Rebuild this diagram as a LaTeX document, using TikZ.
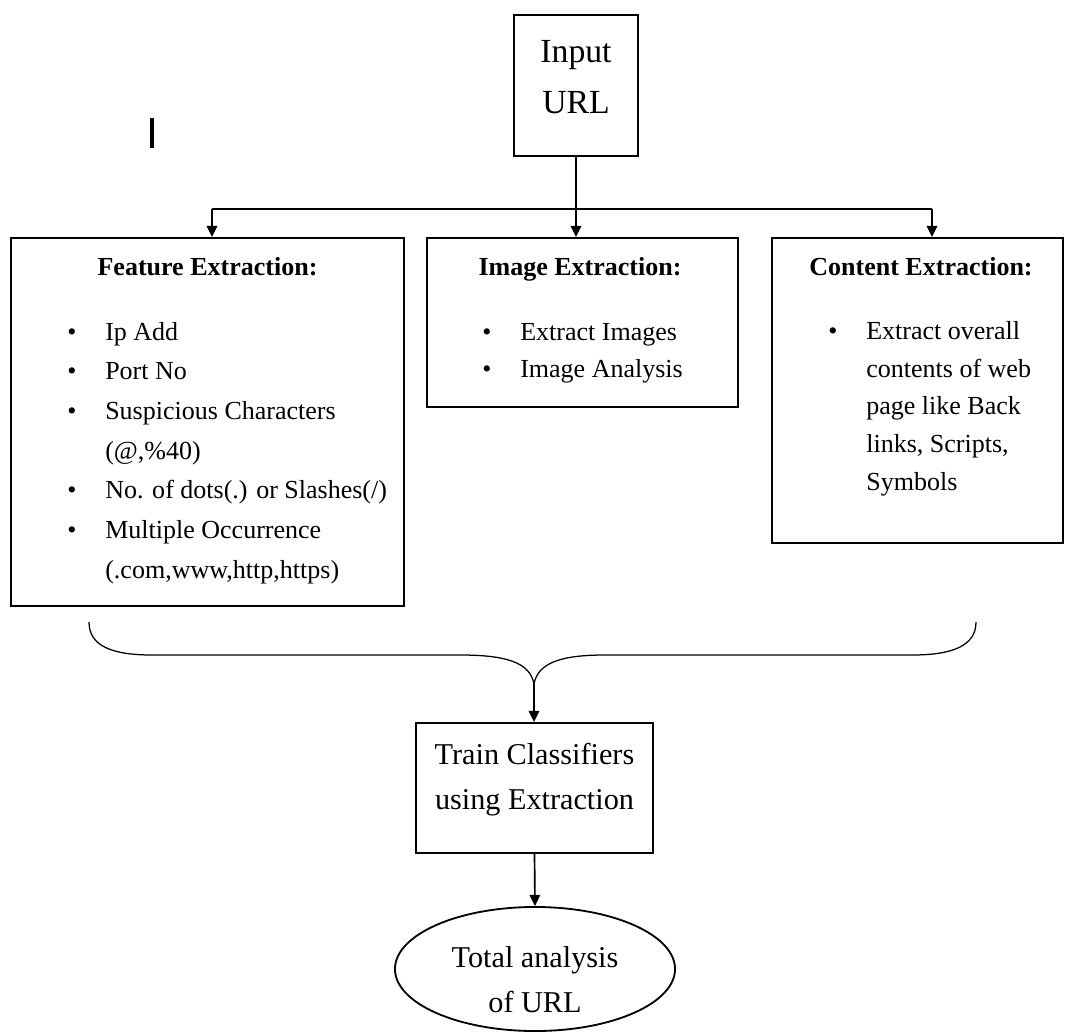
\documentclass[tikz,border=0pt]{standalone}
\usepackage{fontspec}
\setmainfont{Liberation Serif}
\usetikzlibrary{arrows.meta,shapes.geometric}

\newcommand{\blt}{\makebox[0.95cm][l]{\textbullet}}
\newcommand{\bind}{\hspace*{0.95cm}}

\tikzset{
	box/.style={draw, line width=1.3pt, inner sep=0pt},
	wire/.style={line width=1.2pt},
	arr/.style={line width=1.2pt, -{Triangle[length=8pt,width=7.5pt]}},
	head/.style={anchor=base, inner sep=0pt, font=\fontsize{18.5}{22}\selectfont\bfseries},
	items/.style={anchor=base west, inner sep=0pt, align=left},
	ctext/.style={anchor=base, inner sep=0pt, align=center}
}

\begin{document}
\begin{tikzpicture}[x=0.025cm, y=-0.025cm]
			%%%%% START %%%%%
			\useasboundingbox (0,0) rectangle (1065,1032);
			
			\draw[line width=2.2pt] (152,118) -- (152,148);
			
			% input (text nodes sit on the baseline of their last line)
			\node[box, minimum width=3.1cm, minimum height=3.525cm] (inp) at (576,85.5) {};
			\node[ctext, font=\fontsize{24}{35.6}\selectfont] (inptxt) at (576,113) {Input\\URL};
			
			% three extraction boxes
			\node[box, minimum width=9.825cm, minimum height=9.2cm] (feat) at (207.5,422) {};
			\node[head] (feathead) at (207.5,275) {Feature Extraction:};
			\node[items, font=\fontsize{18.5}{28.2}\selectfont] (featlist) at (67,578) {%
				\blt Ip Add\\
				\blt Port No\\
				\blt Suspicious Characters\\
				\bind (@,\%40)\\
				\blt No. of dots(.) or Slashes(/)\\
				\blt Multiple Occurrence\\
				\bind (.com,www,http,https)};
			
			\node[box, minimum width=7.775cm, minimum height=4.225cm] (img) at (582.5,322.5) {};
			\node[head] (imghead) at (580,275) {Image Extraction:};
			\node[items, font=\fontsize{18.5}{26.3}\selectfont] (imglist) at (482,377) {%
				\blt Extract Images\\
				\blt Image Analysis};
			
			\node[box, minimum width=7.275cm, minimum height=7.625cm] (cont) at (917.5,390.5) {};
			\node[head] (conthead) at (921,275) {Content Extraction:};
			\node[items, font=\fontsize{18.5}{26.7}\selectfont] (contlist) at (828,490) {%
				\blt Extract overall\\
				\bind contents of web\\
				\bind page like Back\\
				\bind links, Scripts,\\
				\bind Symbols};
			
			% classifier and result
			\node[box, minimum width=5.925cm, minimum height=3.25cm] (train) at (534.5,788) {};
			\node[ctext, font=\fontsize{21.5}{31.3}\selectfont] (traintxt) at (534.5,809) {Train Classifiers\\using Extraction};
			
			\node[box, ellipse, minimum width=7cm, minimum height=3.1cm] (tot) at (535,969) {};
			\node[ctext, font=\fontsize{21.5}{32}\selectfont] (tottxt) at (535,1012) {Total analysis\\of URL};
			
			% connectors
			\coordinate (fj) at (212,209);
			\coordinate (cj) at (932,209);
			\draw[wire] (fj) -- (cj);
			\draw[arr] (inp.south) -- (inp.south |- img.north);
			\draw[arr] (fj) -- (fj |- feat.north);
			\draw[arr] (cj) -- (cj |- cont.north);
			
			\coordinate (cusp) at (534,684);
			\draw[line width=0.9pt] (89,622) .. controls (89,646) and (112,655) .. (152,655) -- (460,655)
				.. controls (505,655) and (530,662) .. (cusp)
				.. controls (538,662) and (563,655) .. (605,655) -- (912,655)
				.. controls (952,655) and (976,646) .. (976,622);
			\draw[arr] (cusp) -- (cusp |- train.north);
			\draw[arr] (train.south) -- (tot.north);
			%%%%% END %%%%%
\end{tikzpicture}
\end{document}
